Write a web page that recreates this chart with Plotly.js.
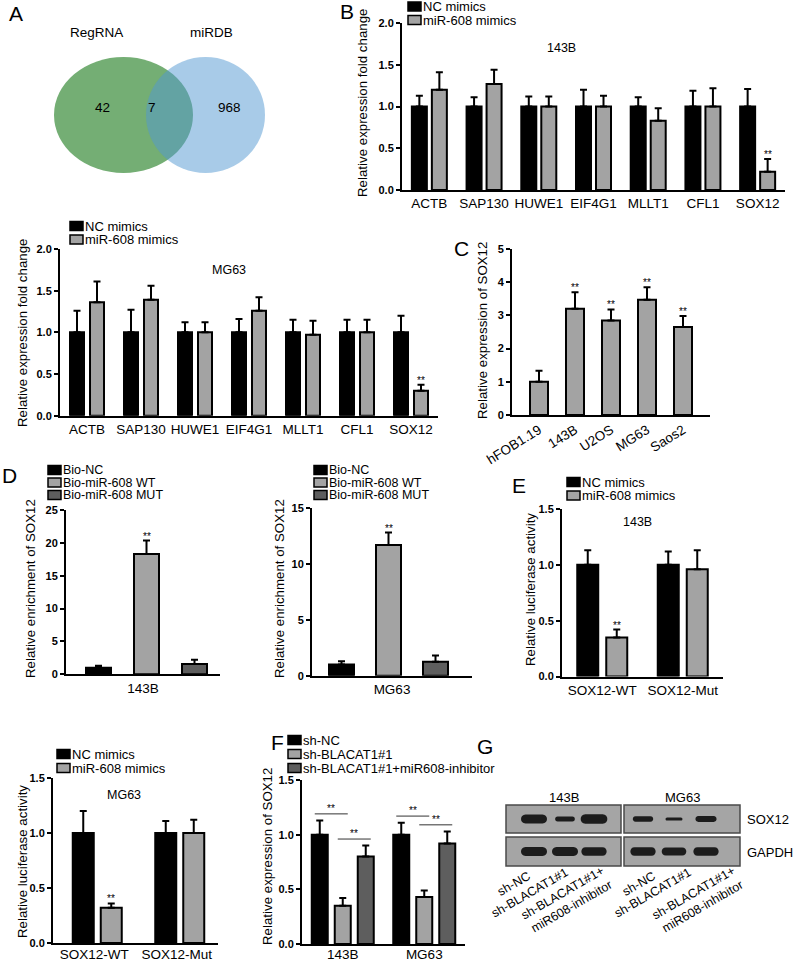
<!DOCTYPE html>
<html><head><meta charset="utf-8">
<script src="https://cdn.plot.ly/plotly-3.0.1.min.js"></script>
<style>html,body{margin:0;padding:0;background:#fff}#chart{width:796px;height:961px}</style>
</head><body><div id="chart"></div>
<script>
// ================= DATA =================
// A: Venn
const vennSets = ['RegRNA', 'miRDB'];
const vennCounts = [42, 7, 968]; // RegRNA only, shared, miRDB only

// B: candidate genes
const genes = ['ACTB','SAP130','HUWE1','EIF4G1','MLLT1','CFL1','SOX12'];
const mimicSeries = ['NC mimics','miR-608 mimics'];
const b143NC    = [1.00,1.00,1.00,1.00,1.00,1.00,1.00];
const b143NCErr = [0.13,0.11,0.12,0.20,0.11,0.19,0.21];
const b143Mi    = [1.20,1.27,1.00,1.00,0.83,1.00,0.22];
const b143MiErr = [0.21,0.17,0.12,0.13,0.15,0.22,0.15];
const bMGNC     = [1.00,1.00,1.00,1.00,1.00,1.00,1.00];
const bMGNCErr  = [0.26,0.27,0.12,0.16,0.15,0.15,0.20];
const bMGMi     = [1.36,1.39,1.00,1.26,0.97,1.00,0.30];
const bMGMiErr  = [0.25,0.17,0.12,0.16,0.17,0.15,0.07];
const bSig      = [false,false,false,false,false,false,true];

// C: cell lines
const cellLines = ['hFOB1.19','143B','U2OS','MG63','Saos2'];
const cVals = [1.00,3.20,2.85,3.47,2.65];
const cErr  = [0.33,0.50,0.33,0.38,0.33];
const cSig  = [false,true,true,true,true];

// D: biotin pull-down
const bioSeries = ['Bio-NC','Bio-miR-608 WT','Bio-miR-608 MUT'];
const dCat143 = ['143B'];
const dCatMG = ['MG63'];
const d143    = [1.0,18.3,1.55];
const d143Err = [0.3,2.05,0.65];
const dMG     = [1.0,11.7,1.25];
const dMGErr  = [0.3,1.1,0.55];
const dSig    = [false,true,false];

// E: luciferase
const lucCats = ['SOX12-WT','SOX12-Mut'];
const e143NC = [1.00,1.00], e143NCErr = [0.13,0.12];
const e143Mi = [0.35,0.96], e143MiErr = [0.07,0.17];
const eMGNC  = [1.00,1.00], eMGNCErr  = [0.20,0.11];
const eMGMi  = [0.32,1.00], eMGMiErr  = [0.04,0.12];
const eSig   = [true,false];

// F: rescue
const shSeries = ['sh-NC','sh-BLACAT1#1','sh-BLACAT1#1+miR608-inhibitor'];
const fCats = ['143B','MG63'];
const fNC  = [1.00,1.00], fNCErr  = [0.13,0.11];
const fSh  = [0.35,0.43], fShErr  = [0.07,0.06];
const fInh = [0.80,0.92], fInhErr = [0.10,0.11];
const fComparisons = [[0,1],[1,2]];

// G: western blot
const blotCells = ['143B','MG63'];
const blotRows = ['SOX12','GAPDH'];
const blotLanes = ['sh-NC','sh-BLACAT1#1','sh-BLACAT1#1+<br>miR608-inhibitor'];
const sox12Band = [[1.0,0.55,1.05],[0.6,0.35,0.65]];
const gapdhBand = [[1.0,1.0,0.95],[0.95,0.9,0.95]];

// ================= HELPERS =================
const FONT = 'Liberation Sans, Arial, Helvetica, sans-serif';
const W = 796, H = 961;
const px = v => v / W;
const py = v => 1 - v / H;
const BLACK = '#000000', LIGHT = '#a3a3a3', DARK = '#5e5e5e';

const layout = {
  width: W, height: H, margin: {l:0, r:0, t:0, b:0},
  paper_bgcolor: '#ffffff', plot_bgcolor: 'rgba(0,0,0,0)',
  showlegend: false, barmode: 'overlay',
  font: {family: FONT, color: '#000'}
};
const traces = [], shapes = [], annotations = [];

function axisNames(i){ return i === 1 ? ['x','y','xaxis','yaxis'] : ['x'+i,'y'+i,'xaxis'+i,'yaxis'+i]; }

function makePanel(i, p){
  const [xn, yn, xk, yk] = axisNames(i);
  const xr = p.xrange || [-0.5, p.cats.length - 0.5];
  layout[xk] = {domain:[px(p.x0), px(p.x1)], anchor: yn, type:'category',
    categoryorder:'array', categoryarray: p.cats, range: xr,
    showline:true, linecolor:'#000', linewidth:2, ticks:'', showgrid:false, zeroline:false,
    ticklabelstandoff: p.standoff || 0,
    tickangle: p.tickangle || 0, tickfont:{family:FONT, size:p.xfont || 13.5, color:'#000'}, fixedrange:true};
  layout[yk] = {domain:[py(p.y0), py(p.y1)], anchor: xn, range:[0, p.ymax], tick0:0, dtick:p.dtick,
    tickformat:p.fmt, showline:true, linecolor:'#000', linewidth:2, ticks:'outside', ticklen:4,
    tickwidth:2, tickcolor:'#000', showgrid:false, zeroline:false,
    tickfont:{family:FONT, size:11, color:'#000', weight:'bold'}, fixedrange:true};
  return {xn, yn, ppu: (p.x1 - p.x0) / (xr[1] - xr[0])};
}
function lefts(n, barPx, stepPx, shift){
  const tot = (n - 1) * stepPx + barPx;
  return Array.from({length:n}, (_, k) => -tot/2 + k*stepPx + (shift || 0));
}
function addSeries(P, cats, vals, errs, color, leftPx, barPx){
  traces.push({type:'bar', x:cats, y:vals, xaxis:P.xn, yaxis:P.yn,
    offset: leftPx / P.ppu, width: barPx / P.ppu,
    marker:{color:color, line:{color:'#000', width:2}},
    error_y:{type:'data', symmetric:false, array:errs, arrayminus:vals.map(() => 0),
      color:'#000', thickness:2, width:3.5},
    hoverinfo:'skip', showlegend:false});
}
function addStars(P, vals, errs, sig, leftPx, barPx){
  vals.forEach((v, k) => {
    if (!sig[k]) return;
    annotations.push({xref:P.xn, yref:P.yn, x:k + (leftPx + barPx/2) / P.ppu, y:v + errs[k],
      text:'**', showarrow:false, xanchor:'center', yanchor:'bottom', yshift:-3,
      font:{family:FONT, size:10, color:'#000'}});
  });
}
function txt(x, y, text, size, extra){
  annotations.push(Object.assign({xref:'paper', yref:'paper', x:px(x), y:py(y), text:text,
    showarrow:false, xanchor:'center', yanchor:'middle',
    font:{family:FONT, size:size || 12, color:'#000'}}, extra || {}));
}
function ytitle(x, y, text){ txt(x, y, text, 13.3, {textangle:-90}); }
function legend(names, colors, xSw, yFirst, step, size){
  names.forEach((n, i) => {
    const yc = yFirst + i * step;
    shapes.push({type:'rect', xref:'paper', yref:'paper', x0:px(xSw), x1:px(xSw + 13),
      y0:py(yc + 4.5), y1:py(yc - 4.5), fillcolor:colors[i], line:{color:'#000', width:1.5}});
    txt(xSw + 14, yc, n, size || 13, {xanchor:'left', borderpad:0});
  });
}

// ================= PANEL A (Venn) =================
shapes.push({type:'circle', xref:'paper', yref:'paper', x0:px(54), x1:px(193), y0:py(173), y1:py(57),
  fillcolor:'#74ae74', line:{width:0}});
shapes.push({type:'circle', xref:'paper', yref:'paper', x0:px(146), x1:px(265), y0:py(173), y1:py(57),
  fillcolor:'rgba(81,151,209,0.5)', line:{width:0}});
txt(96, 33, vennSets[0], 13.5);
txt(211, 33, vennSets[1], 13.5);
txt(102, 107, String(vennCounts[0]), 13.5);
txt(152, 107, String(vennCounts[1]), 13.5);
txt(229, 107, String(vennCounts[2]), 13.5);

// ================= PANEL B (143B) =================
const PB = makePanel(1, {x0:402, x1:785, y0:190, y1:23, ymax:2, dtick:0.5, fmt:'.1f', cats:genes});
const lB = lefts(2, 15, 20);
addSeries(PB, genes, b143NC, b143NCErr, BLACK, lB[0], 15);
addSeries(PB, genes, b143Mi, b143MiErr, LIGHT, lB[1], 15);
addStars(PB, b143Mi, b143MiErr, bSig, lB[1], 15);
legend(mimicSeries, [BLACK, LIGHT], 408, 6.5, 13.5);
txt(561, 48, '143B', 12.5);
ytitle(362, 103, 'Relative expression fold change');

// ================= PANEL B (MG63) =================
const PM = makePanel(2, {x0:60, x1:438, y0:415.7, y1:249, ymax:2, dtick:0.5, fmt:'.1f', cats:genes});
const lM = lefts(2, 14, 20);
addSeries(PM, genes, bMGNC, bMGNCErr, BLACK, lM[0], 14);
addSeries(PM, genes, bMGMi, bMGMiErr, LIGHT, lM[1], 14);
addStars(PM, bMGMi, bMGMiErr, bSig, lM[1], 14);
legend(mimicSeries, [BLACK, LIGHT], 70, 226, 13.5);
txt(229, 270, 'MG63', 12.5);
ytitle(22, 333, 'Relative expression fold change');

// ================= PANEL C =================
const PC = makePanel(3, {x0:512, x1:710, y0:415, y1:249, ymax:5, dtick:1, fmt:'d', cats:cellLines,
  xrange:[-0.75, 4.75], tickangle:-32, xfont:13.5});
addSeries(PC, cellLines, cVals, cErr, LIGHT, -9, 18);
addStars(PC, cVals, cErr, cSig, -9, 18);
ytitle(482, 331, 'Relative expression of SOX12');

// ================= PANEL D =================
const PD1 = makePanel(4, {x0:66, x1:220, y0:674.3, y1:510, ymax:25, dtick:5, fmt:'d', cats:dCat143});
const lD1 = lefts(3, 25, 48, 3.5);
[BLACK, LIGHT, DARK].forEach((c, s) => {
  addSeries(PD1, dCat143, [d143[s]], [d143Err[s]], c, lD1[s], 25);
  addStars(PD1, [d143[s]], [d143Err[s]], [dSig[s]], lD1[s], 25);
});
legend(bioSeries, [BLACK, LIGHT, DARK], 48, 470, 12.5, 12.5);
ytitle(30, 589, 'Relative enrichment of SOX12');

const PD2 = makePanel(5, {x0:312, x1:472, y0:675.7, y1:508, ymax:15, dtick:5, fmt:'d', cats:dCatMG});
const lD2 = lefts(3, 25, 47, -3.5);
[BLACK, LIGHT, DARK].forEach((c, s) => {
  addSeries(PD2, dCatMG, [dMG[s]], [dMGErr[s]], c, lD2[s], 25);
  addStars(PD2, [dMG[s]], [dMGErr[s]], [dSig[s]], lD2[s], 25);
});
legend(bioSeries, [BLACK, LIGHT, DARK], 314, 470, 12.5, 12.5);
ytitle(279, 589, 'Relative enrichment of SOX12');

// ================= PANEL E =================
const PE1 = makePanel(6, {x0:562, x1:723, y0:676.5, y1:509, ymax:1.5, dtick:0.5, fmt:'.1f', cats:lucCats});
const lE1 = lefts(2, 21, 29);
addSeries(PE1, lucCats, e143NC, e143NCErr, BLACK, lE1[0], 21);
addSeries(PE1, lucCats, e143Mi, e143MiErr, LIGHT, lE1[1], 21);
addStars(PE1, e143Mi, e143MiErr, eSig, lE1[1], 21);
legend(mimicSeries, [BLACK, LIGHT], 567, 482, 13.5);
txt(637, 522, '143B', 12.5);
ytitle(530, 590, 'Relative luciferase activity');

const PE2 = makePanel(7, {x0:53, x1:218, y0:943, y1:778, ymax:1.5, dtick:0.5, fmt:'.1f', cats:lucCats, standoff:-2});
const lE2 = lefts(2, 21, 28, 3);
addSeries(PE2, lucCats, eMGNC, eMGNCErr, BLACK, lE2[0], 21);
addSeries(PE2, lucCats, eMGMi, eMGMiErr, LIGHT, lE2[1], 21);
addStars(PE2, eMGMi, eMGMiErr, eSig, lE2[1], 21);
legend(mimicSeries, [BLACK, LIGHT], 57, 754, 14);
txt(124, 795, 'MG63', 12.5);
ytitle(22, 862, 'Relative luciferase activity');

// ================= PANEL F =================
const PF = makePanel(8, {x0:302, x1:465, y0:944, y1:780, ymax:1.5, dtick:0.5, fmt:'.1f', cats:fCats, standoff:-3});
const lF = lefts(3, 16, 23);
const fSeriesData = [[fNC, fNCErr, BLACK], [fSh, fShErr, LIGHT], [fInh, fInhErr, DARK]];
fSeriesData.forEach((s, i) => addSeries(PF, fCats, s[0], s[1], s[2], lF[i], 16));
fComparisons.forEach(([a, b]) => {
  fCats.forEach((c, k) => {
    const top = Math.max(fSeriesData[a][0][k] + fSeriesData[a][1][k],
                         fSeriesData[b][0][k] + fSeriesData[b][1][k]) + 0.06;
    const xa = k + (lF[a] + 8 - 5) / PF.ppu, xb = k + (lF[b] + 8 + 5) / PF.ppu;
    shapes.push({type:'line', xref:'x8', yref:'y8', x0:xa, x1:xb, y0:top, y1:top,
      line:{color:'#333', width:1}});
    annotations.push({xref:'x8', yref:'y8', x:(xa + xb)/2, y:top, text:'**', showarrow:false,
      xanchor:'center', yanchor:'bottom', yshift:-2, font:{family:FONT, size:10, color:'#000'}});
  });
});
legend(shSeries, [BLACK, LIGHT, DARK], 288, 740, 14);
ytitle(267, 857, 'Relative expression of SOX12');

// ================= PANEL G (blot) =================
const blotBoxes = [{x0:506, x1:621, lanes:[534,565,594]}, {x0:624, x1:740, lanes:[643,674,706]}];
const rowY = [[805,833],[837,866]];
function band(cx, cy, w, h){
  const r = h/2, xl = cx - w/2 + r, xr = cx + w/2 - r, k = 1.33*r;
  const P = (x, y) => px(x) + ',' + py(y);
  return 'M' + P(xl, cy - r) + ' L' + P(xr, cy - r) +
    ' C' + P(xr + k, cy - r) + ' ' + P(xr + k, cy + r) + ' ' + P(xr, cy + r) +
    ' L' + P(xl, cy + r) +
    ' C' + P(xl - k, cy + r) + ' ' + P(xl - k, cy - r) + ' ' + P(xl, cy - r) + ' Z';
}
blotBoxes.forEach((bx, ci) => {
  rowY.forEach((ry, ri) => {
    shapes.push({type:'rect', xref:'paper', yref:'paper', x0:px(bx.x0), x1:px(bx.x1),
      y0:py(ry[1]), y1:py(ry[0]), fillcolor:'#a5a5a5', line:{color:'#4a4a4a', width:1.5}});
    const ints = ri === 0 ? sox12Band[ci] : gapdhBand[ci];
    const cy = (ry[0] + ry[1]) / 2;
    ints.forEach((v, li) => {
      shapes.push({type:'path', xref:'paper', yref:'paper', path: band(bx.lanes[li], cy, 12 + 14*v, 9*v),
        fillcolor:'#1c1c1c', line:{width:0}});
    });
  });
  txt((bx.x0 + bx.x1)/2, 797, blotCells[ci], 13);
});
txt(745, 819, blotRows[0], 13, {xanchor:'left'});
txt(745, 852, blotRows[1], 13, {xanchor:'left'});
const laneLabelEnds = [[[528,870],[566,867],[602,865]], [[653,870],[689,867],[733,865]]];
blotBoxes.forEach((bx, ci) => {
  blotLanes.forEach((lab, li) => {
    const e = laneLabelEnds[ci][li];
    const two = lab.indexOf('<br>') >= 0;
    txt(e[0] + (two ? 15 : 7), e[1] - 4, lab, 12.5,
      {textangle:-30, xanchor:'right', yanchor:'top', align:'right'});
  });
});

// ================= PANEL LETTERS =================
[['A',16,13],['B',347,12],['C',461,248],['D',9,475],['E',519,485],['F',277,742],['G',485,746]]
  .forEach(l => txt(l[1], l[2], l[0], 21));

layout.shapes = shapes;
layout.annotations = annotations;
Plotly.newPlot('chart', traces, layout, {staticPlot:true, displayModeBar:false});
</script></body></html>
